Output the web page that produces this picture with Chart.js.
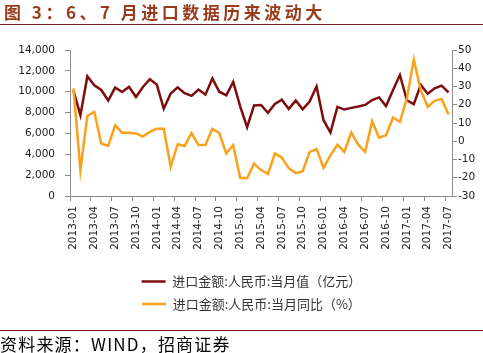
<!DOCTYPE html>
<html>
<head>
<meta charset="utf-8">
<script src="https://cdn.jsdelivr.net/npm/chart.js@4.4.1/dist/chart.umd.min.js"></script>
<style>
  body { margin: 0; background: #fff; width: 483px; height: 353px; overflow: hidden; position: relative; font-family: "Noto Sans CJK SC", sans-serif; }
  canvas { position: absolute; left: 0; top: 0; }
  #title { position: absolute; left: 4px; top: 3px; font-size: 17px; line-height: 17px; font-weight: bold; color: #9a3b1c; letter-spacing: 3.5px; white-space: nowrap; }
  #topline { position: absolute; left: 0; top: 24px; width: 483px; border-top: 1.5px solid #7b1f1f; }
  #bottomline { position: absolute; left: 0; top: 330px; width: 483px; border-top: 1px solid #7b1f1f; }
  #source { position: absolute; left: 0; top: 335px; font-size: 17px; line-height: 17px; color: #000; letter-spacing: 1.2px; white-space: nowrap; }
</style>
</head>
<body>
<canvas id="myChart" width="483" height="353"></canvas>
<div id="title">图 3：6、7 月进口数据历来波动大</div>
<div id="topline"></div>
<div id="bottomline"></div>
<div id="source">资料来源：WIND，招商证券</div>
<script>
const months = [
  '2013-01','2013-02','2013-03','2013-04','2013-05','2013-06','2013-07','2013-08','2013-09','2013-10','2013-11','2013-12',
  '2014-01','2014-02','2014-03','2014-04','2014-05','2014-06','2014-07','2014-08','2014-09','2014-10','2014-11','2014-12',
  '2015-01','2015-02','2015-03','2015-04','2015-05','2015-06','2015-07','2015-08','2015-09','2015-10','2015-11','2015-12',
  '2016-01','2016-02','2016-03','2016-04','2016-05','2016-06','2016-07','2016-08','2016-09','2016-10','2016-11','2016-12',
  '2017-01','2017-02','2017-03','2017-04','2017-05','2017-06','2017-07'
];

// 进口金额:人民币:当月值（亿元）
const importValue = [
  10100, 7750, 11480, 10620, 10170, 9160, 10400, 9970, 10480, 9500, 10450, 11200,
  10680, 8380, 9820, 10420, 9850, 9600, 10210, 9720, 11280, 10000, 9650, 10950,
  8600, 6600, 8680, 8730, 7970, 8830, 9240, 8350, 9150, 8310, 9050, 10500,
  7270, 6090, 8540, 8290, 8450, 8580, 8730, 9200, 9450, 8620, 10140, 11600,
  9180, 8810, 10670, 9810, 10320, 10580, 9930
];

// 进口金额:人民币:当月同比（%）
const importYoy = [
  29, -15.8, 14, 16, -1.2, -2.5, 8.7, 4.7, 4.6, 4.3, 2.6, 5.2,
  6.8, 6.8, -14, -1.6, -2.6, 4.5, -2.1, -2.1, 6.8, 4.5, -6.7, -2.2,
  -20, -20.3, -12.2, -15.8, -17.9, -6.7, -9, -14.7, -17.5, -16.4, -5.8, -4.3,
  -14.5, -7.7, -1.9, -5.8, 4.8, -1.9, -5.8, 11, 1.9, 3.3, 13, 10.6,
  23.4, 44.8, 28, 18.8, 22.1, 23.2, 14.6
];

const leftTicks = [0, 2000, 4000, 6000, 8000, 10000, 12000, 14000];
const rightTicks = [-30, -20, -10, 0, 10, 20, 30, 40, 50];

const axisGrey = '#8c8c8c';
const tickFont = { family: 'DejaVu Sans', size: 10.5 };

const ctx = document.getElementById('myChart');

// legend is only as wide as the plot; nudge it left so its rows start near x=142
const legendShift = {
  id: 'legendShift',
  afterLayout(chart) { chart.legend.left -= 19; }
};

function createChart() {
  new Chart(ctx, {
    type: 'line',
    data: {
      labels: months,
      datasets: [
        {
          label: '进口金额:人民币:当月值（亿元）',
          data: importValue,
          yAxisID: 'y',
          borderColor: '#7d0c0c',
          backgroundColor: '#7d0c0c',
          borderWidth: 2.5,
          pointRadius: 0,
          tension: 0,
          order: 1
        },
        {
          label: '进口金额:人民币:当月同比（%）',
          data: importYoy,
          yAxisID: 'y1',
          borderColor: '#f9a11b',
          backgroundColor: '#f9a11b',
          borderWidth: 2.5,
          pointRadius: 0,
          tension: 0,
          order: 0
        }
      ]
    },
    options: {
      responsive: false,
      animation: false,
      layout: { padding: { top: 50, bottom: 32.5, left: 0, right: 0 } },
      plugins: {
        legend: {
          position: 'bottom',
          fullSize: false,
          labels: {
            boxWidth: 24,
            boxHeight: 0,
            padding: 9.5,
            color: '#333',
            font: { family: '"Noto Sans CJK SC"', size: 13 },
            sort: (a, b) => a.datasetIndex - b.datasetIndex
          }
        },
        tooltip: { enabled: false }
      },
      scales: {
        x: {
          offset: true,
          grid: {
            offset: true,
            drawOnChartArea: false,
            tickLength: 5,
            tickColor: c => (c.index % 3 === 0 ? axisGrey : 'rgba(0,0,0,0)')
          },
          border: { color: axisGrey },
          ticks: {
            autoSkip: false,
            minRotation: 90,
            maxRotation: 90,
            padding: 5,
            color: '#222',
            font: tickFont,
            callback: function(v, i) { return i % 3 === 0 ? this.getLabelForValue(v) : ''; }
          },
          afterFit: s => { s.height = 69.5; }
        },
        y: {
          position: 'left',
          min: leftTicks[0],
          max: leftTicks[leftTicks.length - 1],
          grid: { drawOnChartArea: false, tickLength: 5, tickColor: axisGrey },
          border: { color: axisGrey },
          afterBuildTicks: s => { s.ticks = leftTicks.map(v => ({ value: v })); },
          ticks: {
            padding: 10,
            color: '#222',
            font: tickFont,
            callback: v => v.toLocaleString('en-US')
          },
          afterFit: s => { s.width = 70; }
        },
        y1: {
          position: 'right',
          min: rightTicks[0],
          max: rightTicks[rightTicks.length - 1],
          grid: { drawOnChartArea: false, tickLength: 5, tickColor: axisGrey },
          border: { color: axisGrey },
          afterBuildTicks: s => { s.ticks = rightTicks.map(v => ({ value: v })); },
          ticks: {
            padding: 1,
            color: '#222',
            font: tickFont,
            callback: v => String(v)
          },
          afterFit: s => { s.width = 31; }
        }
      }
    },
    plugins: [legendShift]
  });
}

createChart();
</script>
</body>
</html>
